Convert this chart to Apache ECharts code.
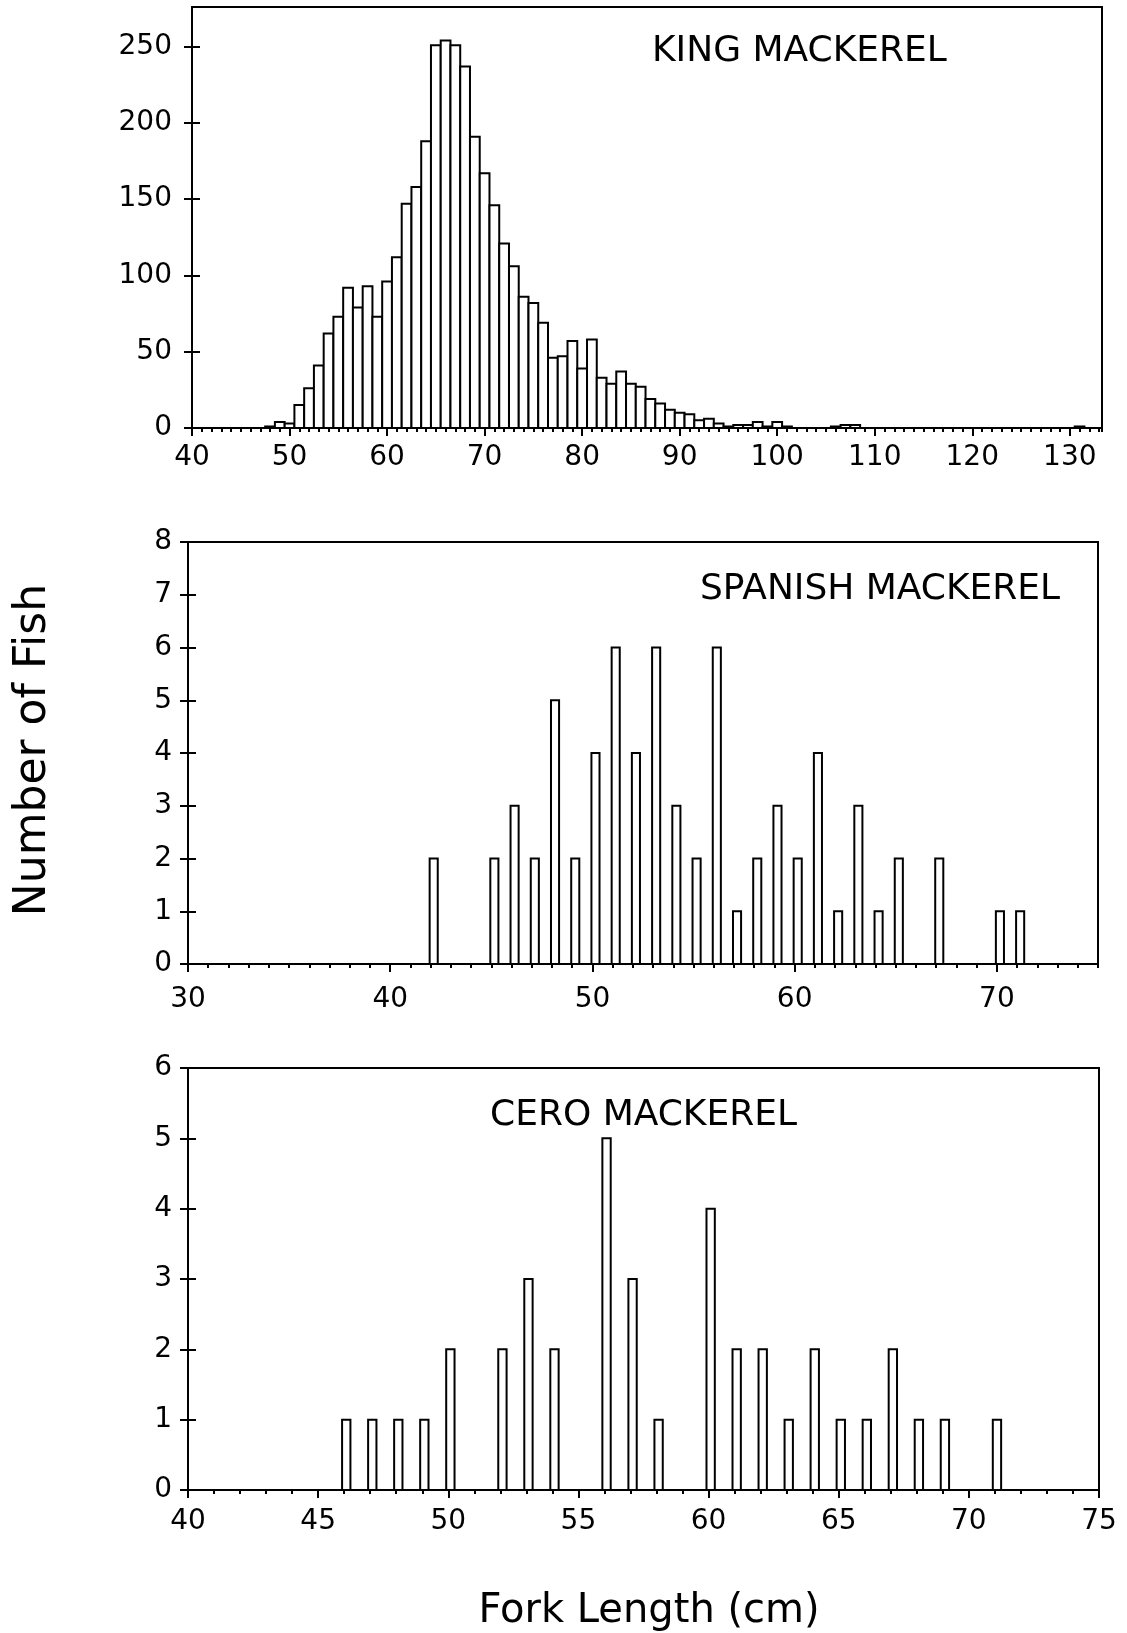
<!DOCTYPE html>
<html>
<head>
<meta charset="utf-8">
<title>Mackerel fork length</title>
<script src="https://cdn.jsdelivr.net/npm/echarts@6/dist/echarts.min.js"></script>
<style>
  html, body { margin: 0; padding: 0; background: #fff; }
  #chart { width: 1127px; height: 1633px; }
</style>
</head>
<body>
<div id="chart"></div>
<script>
// fork length (cm) bins and counts
const kingLengths = [48, 49, 50, 51, 52, 53, 54, 55, 56, 57, 58, 59, 60, 61, 62, 63, 64, 65, 66, 67, 68, 69,
  70, 71, 72, 73, 74, 75, 76, 77, 78, 79, 80, 81, 82, 83, 84, 85, 86, 87, 88, 89, 90, 91, 92, 93, 94, 95,
  96, 97, 98, 99, 100, 101, 106, 107, 108, 131];
const kingCounts = [1, 4, 3, 15, 26, 41, 62, 73, 92, 79, 93, 73, 96, 112, 147, 158, 188, 251, 254, 251, 237, 191,
  167, 146, 121, 106, 86, 82, 69, 46, 47, 57, 39, 58, 33, 29, 37, 29, 27, 19, 16, 12, 10, 9, 5, 6, 3, 1,
  2, 2, 4, 1, 4, 1, 1, 2, 2, 1];

const spanishLengths = [42, 45, 46, 47, 48, 49, 50, 51, 52, 53, 54, 55, 56, 57, 58, 59, 60, 61, 62, 63, 64, 65, 67, 70, 71];
const spanishCounts = [2, 2, 3, 2, 5, 2, 4, 6, 4, 6, 3, 2, 6, 1, 2, 3, 2, 4, 1, 3, 1, 2, 2, 1, 1];

const ceroLengths = [46, 47, 48, 49, 50, 52, 53, 54, 56, 57, 58, 60, 61, 62, 63, 64, 65, 66, 67, 68, 69, 71];
const ceroCounts = [1, 1, 1, 1, 2, 2, 3, 2, 5, 3, 1, 4, 2, 2, 1, 2, 1, 1, 2, 1, 1, 1];

const titles = ['KING MACKEREL', 'SPANISH MACKEREL', 'CERO MACKEREL'];
const yName = 'Number of Fish';
const xName = 'Fork Length (cm)';

const FONT = 'DejaVu Sans';
const chart = echarts.init(document.getElementById('chart'));

function pairs(xs, ys) {
  return xs.map((x, i) => [x, ys[i]]);
}

// open bars from x+lo to x+hi (data units)
function barRenderer(lo, hi) {
  return function (params, api) {
    const x = api.value(0), v = api.value(1);
    const a = api.coord([x + lo, v]);
    const b = api.coord([x + hi, 0]);
    return {
      type: 'rect',
      shape: { x: a[0], y: a[1], width: b[0] - a[0], height: b[1] - a[1] },
      style: { fill: '#fff', stroke: '#000', lineWidth: 2 }
    };
  };
}

function majorX(grid, min, max, interval, margin, showMax) {
  return {
    type: 'value', gridIndex: grid, position: 'bottom', min: min, max: max, interval: interval,
    axisLine: { show: true, onZero: false, lineStyle: { color: '#000', width: 2 } },
    axisTick: { show: true, length: 8, lineStyle: { color: '#000', width: 2 } },
    axisLabel: { margin: margin, color: '#000', fontFamily: FONT, fontSize: 28, showMaxLabel: showMax },
    splitLine: { show: false }
  };
}
function minorX(grid, min, max) {
  return {
    type: 'value', gridIndex: grid, position: 'bottom', min: min, max: max, interval: 1,
    axisLine: { show: false, onZero: false },
    axisTick: { show: true, length: 4, lineStyle: { color: '#000', width: 2 } },
    axisLabel: { show: false }, splitLine: { show: false }
  };
}
function majorY(grid, max, interval, margin, showMax) {
  return {
    type: 'value', gridIndex: grid, position: 'left', min: 0, max: max, interval: interval,
    axisLine: { show: true, onZero: false, lineStyle: { color: '#000', width: 2 } },
    axisTick: { show: true, length: 8, lineStyle: { color: '#000', width: 2 } },
    axisLabel: { margin: margin, color: '#000', fontFamily: FONT, fontSize: 28, showMaxLabel: showMax },
    splitLine: { show: false }
  };
}
// inner half of the cross-shaped ticks
function innerY(grid, max, interval) {
  return {
    type: 'value', gridIndex: grid, position: 'left', min: 0, max: max, interval: interval,
    axisLine: { show: false, onZero: false },
    axisTick: { show: true, inside: true, length: 8, lineStyle: { color: '#000', width: 2 } },
    axisLabel: { show: false }, splitLine: { show: false }
  };
}

const gridStyle = { show: true, borderColor: '#000', borderWidth: 2, backgroundColor: 'transparent' };
const titleText = { fontFamily: FONT, fontSize: 36, fontWeight: 'normal', color: '#000' };

const option = {
  backgroundColor: '#fff',
  animation: false,
  grid: [
    Object.assign({ left: 192, top: 7, width: 910, height: 421 }, gridStyle),
    Object.assign({ left: 188, top: 542, width: 910, height: 422 }, gridStyle),
    Object.assign({ left: 188, top: 1068, width: 911, height: 422 }, gridStyle)
  ],
  title: [
    { text: titles[0], left: 652, top: 34, padding: 0, textStyle: titleText },
    { text: titles[1], left: 700, top: 572, padding: 0, textStyle: titleText },
    { text: titles[2], left: 490, top: 1098, padding: 0, textStyle: titleText }
  ],
  xAxis: [
    majorX(0, 40, 133.3, 10, 16, false),
    minorX(0, 40, 133.3),
    majorX(1, 30, 75, 10, 22, false),
    minorX(1, 30, 75),
    majorX(2, 40, 75, 5, 18, true),
    minorX(2, 40, 75)
  ],
  yAxis: [
    majorY(0, 276, 50, 20, false),
    innerY(0, 276, 50),
    majorY(1, 8, 1, 16, true),
    innerY(1, 8, 1),
    majorY(2, 6, 1, 16, true),
    innerY(2, 6, 1)
  ],
  series: [
    {
      type: 'custom', name: titles[0], xAxisIndex: 0, yAxisIndex: 0,
      renderItem: barRenderer(-0.5, 0.5), encode: { x: 0, y: 1 },
      data: pairs(kingLengths, kingCounts)
    },
    {
      type: 'custom', name: titles[1], xAxisIndex: 2, yAxisIndex: 2,
      renderItem: barRenderer(-0.05, 0.35), encode: { x: 0, y: 1 },
      data: pairs(spanishLengths, spanishCounts)
    },
    {
      type: 'custom', name: titles[2], xAxisIndex: 4, yAxisIndex: 4,
      renderItem: barRenderer(-0.08, 0.24), encode: { x: 0, y: 1 },
      data: pairs(ceroLengths, ceroCounts)
    }
  ],
  graphic: [
    {
      type: 'text', x: 34, y: 750, rotation: Math.PI / 2,
      style: { text: yName, fontFamily: FONT, fontSize: 44, fill: '#000', align: 'center', verticalAlign: 'middle' }
    },
    {
      type: 'text', x: 649, y: 1612,
      style: { text: xName, fontFamily: FONT, fontSize: 40, fill: '#000', align: 'center', verticalAlign: 'middle' }
    }
  ]
};

chart.setOption(option);
</script>
</body>
</html>
